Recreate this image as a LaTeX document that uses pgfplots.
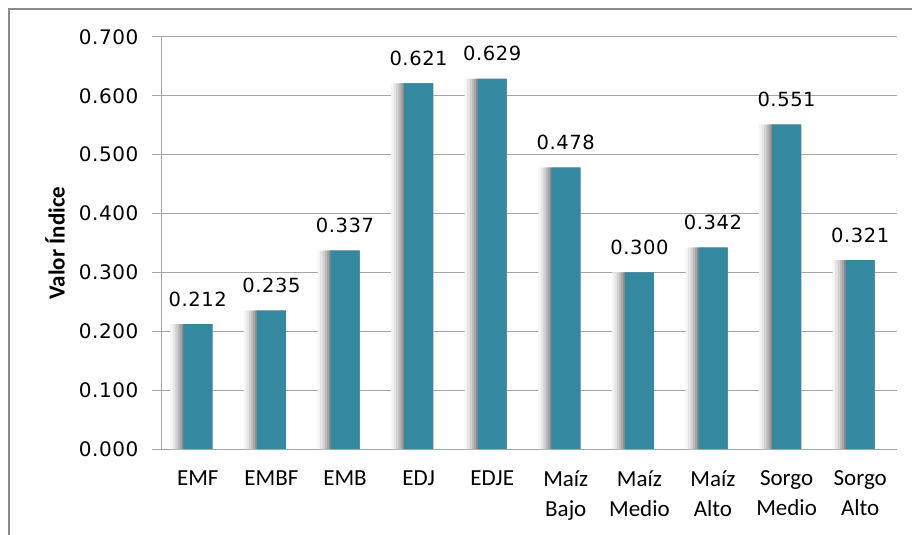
\documentclass[border=0pt]{standalone}
\usepackage{pgfplots}
\pgfplotsset{compat=1.18}
\usepackage{fontspec}
\setmainfont{Carlito}
\newfontfamily\dejavu[LetterSpace=3]{DejaVu Sans}
\definecolor{barc}{RGB}{52,137,160}
\definecolor{gridc}{RGB}{165,165,165}
\definecolor{framec}{RGB}{140,140,140}
\pgfplotstableread{
x y
0 0.212
1 0.235
2 0.337
3 0.621
4 0.629
5 0.478
6 0.300
7 0.342
8 0.551
9 0.321
}\datatable
\begin{document}
\begin{tikzpicture}
\path[use as bounding box] (0,0) rectangle (912bp,535bp);
\draw[framec, line width=2bp] (9bp,0) -- (9bp,526bp) -- (912bp,526bp);
\begin{axis}[
  at={(161bp,86bp)}, anchor=south west,
  scale only axis, width=736bp, height=412bp,
  xmin=-0.5, xmax=9.5, ymin=0, ymax=0.7,
  axis x line*=bottom, axis y line*=left,
  axis line style={gridc, line width=1bp, -},
  ytick={0,0.1,...,0.7},
  ymajorgrids, grid style={gridc, line width=1bp},
  tick align=outside,
  major tick length=9bp,
  ytick style={gridc, line width=1bp},
  yticklabel style={font=\dejavu\fontsize{20bp}{22bp}\selectfont, xshift=-10bp},
  /pgf/number format/assume math mode=true,
  yticklabel={\pgfmathprintnumber[fixed,fixed zerofill,precision=3]{\tick}},
  xtick={0,...,9},
  xticklabels={EMF,EMBF,EMB,EDJ,EDJE,{Maíz\\Bajo},{Maíz\\Medio},{Maíz\\Alto},{Sorgo\\Medio},{Sorgo\\Alto}},
  xtick style={draw=none},
  xticklabel style={font=\fontsize{23bp}{30bp}\selectfont, align=center, anchor=north, yshift=-9bp},
  minor xtick={-0.5,0.5,...,9.5},
  minor tick length=7bp,
  minor x tick style={gridc, line width=1bp},
  ylabel={Valor Índice},
  every axis y label/.style={at={(rel axis cs:0,0.5)}, xshift=-106bp, rotate=90, anchor=center, font=\bfseries\fontsize{23bp}{26bp}\selectfont},
  clip=false,
]
% shadow layers (stepped grey, widest and lightest first)
\addplot[ybar, bar width=42bp, bar shift=-6.5bp, draw=none, fill=black!4] table[x=x,y=y] {\datatable};
\addplot[ybar, bar width=39.5bp, bar shift=-5.25bp, draw=none, fill=black!10] table[x=x,y=y] {\datatable};
\addplot[ybar, bar width=37bp, bar shift=-4bp, draw=none, fill=black!18] table[x=x,y=y] {\datatable};
\addplot[ybar, bar width=34.5bp, bar shift=-2.75bp, draw=none, fill=black!27] table[x=x,y=y] {\datatable};
\addplot[ybar, bar width=32.5bp, bar shift=-1.75bp, draw=none, fill=black!36] table[x=x,y=y] {\datatable};
\addplot[ybar, bar width=30.5bp, bar shift=-0.75bp, draw=none, fill=black!45] table[x=x,y=y] {\datatable};
% bars
\addplot[ybar, bar width=29bp, bar shift=0bp, draw=none, fill=barc,
  nodes near coords={\pgfmathprintnumber[fixed,fixed zerofill,precision=3]{\pgfplotspointmeta}},
  every node near coord/.style={font=\dejavu\fontsize{19.5bp}{22bp}\selectfont, anchor=base, yshift=18bp, text=black}] table[x=x,y=y] {\datatable};
\end{axis}
\end{tikzpicture}
\end{document}
